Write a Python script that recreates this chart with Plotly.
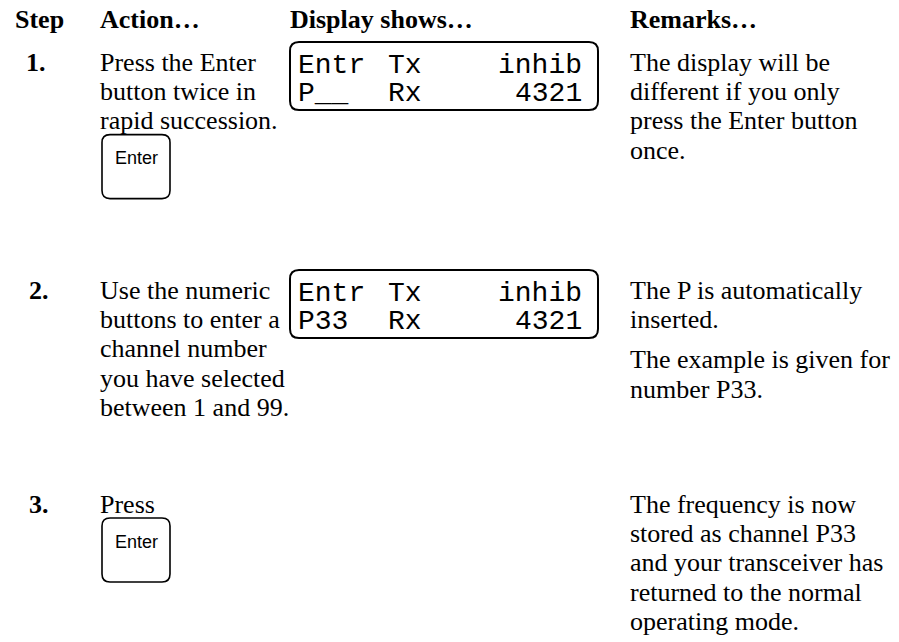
import plotly.graph_objects as go

W, H = 899, 642

# ---------------- content ----------------
headers = ["Step", "Action…", "Display shows…", "Remarks…"]
header_x = [15, 100, 290, 630]

step_labels = ["1.", "2.", "3."]
step_x = [26, 29, 29]
action_lines = [
    ["Press the Enter", "button twice in", "rapid succession."],
    ["Use the numeric", "buttons to enter a", "channel number",
     "you have selected", "between 1 and 99."],
    ["Press"],
]
remark_paras = [
    [["The display will be", "different if you only",
      "press the Enter button", "once."]],
    [["The P is automatically", "inserted."],
     ["The example is given for", "number P33."]],
    [["The frequency is now", "stored as channel P33",
      "and your transceiver has", "returned to the normal",
      "operating mode."]],
]
display_left = [["Entr", "P__"], ["Entr", "P33"], None]
display_mid = [["Tx", "Rx"], ["Tx", "Rx"], None]
display_right = [["inhib", "4321"], ["inhib", "4321"], None]
button_label = "Enter"
has_button = [True, False, True]

# ---------------- layout constants ----------------
header_base = 28
row_base = [71, 299, 513]
line_h = 29.3
para_gap = 11
FS = 26
SERIF = "Liberation Serif, Times New Roman, serif"
MONO = "Liberation Mono, Courier New, monospace"
SANS = "Liberation Sans, Arial, sans-serif"

def yc(baseline, size, asc, desc):
    # centre of the text box for a given baseline
    return baseline - (asc - desc) / 2 * size

annotations = []
def txt(x, baseline, s, size=FS, font=SERIF, bold=False, anchor="left",
        asc=0.891, desc=0.216):
    annotations.append(dict(
        x=x, y=yc(baseline, size, asc, desc), xref="x", yref="y",
        text=("<b>%s</b>" % s) if bold else s, showarrow=False,
        xanchor=anchor, yanchor="middle", borderpad=0, borderwidth=0,
        font=dict(family=font, size=size, color="black")))

shapes = []
def rrect(x0, y0, x1, y1, r, lw):
    p = (f"M{x0+r},{y0} L{x1-r},{y0} Q{x1},{y0} {x1},{y0+r} "
         f"L{x1},{y1-r} Q{x1},{y1} {x1-r},{y1} L{x0+r},{y1} "
         f"Q{x0},{y1} {x0},{y1-r} L{x0},{y0+r} Q{x0},{y0} {x0+r},{y0} Z")
    shapes.append(dict(type="path", path=p, xref="x", yref="y",
                       line=dict(color="black", width=lw),
                       fillcolor="rgba(0,0,0,0)"))

# headers
for hx, h in zip(header_x, headers):
    txt(hx, header_base, h, bold=True)

for i in range(3):
    b = row_base[i]
    txt(step_x[i], b, step_labels[i], bold=True)
    for k, line in enumerate(action_lines[i]):
        txt(100, b + k * line_h, line)
    # remarks
    y = b
    for pi, para in enumerate(remark_paras[i]):
        if pi > 0:
            y += para_gap
        for line in para:
            txt(630, y, line)
            y += line_h
    # display box
    if display_left[i] is not None:
        top = b - 29
        rrect(290, top, 598, top + 68, 9, 2)
        for r in range(2):
            lb = b + 2 + r * 28
            txt(298, lb, display_left[i][r], size=28, font=MONO,
                asc=0.833, desc=0.300)
            txt(388, lb, display_mid[i][r], size=28, font=MONO,
                asc=0.833, desc=0.300)
            txt(582, lb, display_right[i][r], size=28, font=MONO,
                anchor="right", asc=0.833, desc=0.300)
    # button
    if has_button[i]:
        last = b + (len(action_lines[i]) - 1) * line_h
        top = last + 5
        rrect(102, top, 170, top + 64, 8, 1.6)
        txt(136, top + 30, button_label, size=18, font=SANS,
            anchor="center", asc=0.905, desc=0.212)

fig = go.Figure(go.Scatter(x=[], y=[], showlegend=False))
fig.update_layout(
    width=W, height=H, margin=dict(l=0, r=0, t=0, b=0),
    paper_bgcolor="white", plot_bgcolor="white",
    xaxis=dict(range=[0, W], visible=False, fixedrange=True),
    yaxis=dict(range=[H, 0], visible=False, fixedrange=True),
    annotations=annotations, shapes=shapes, showlegend=False,
)
fig.write_html("out.html", config=dict(displayModeBar=False),
               post_script="document.body.style.margin='0px';"
                           "document.body.style.overflow='hidden';")
